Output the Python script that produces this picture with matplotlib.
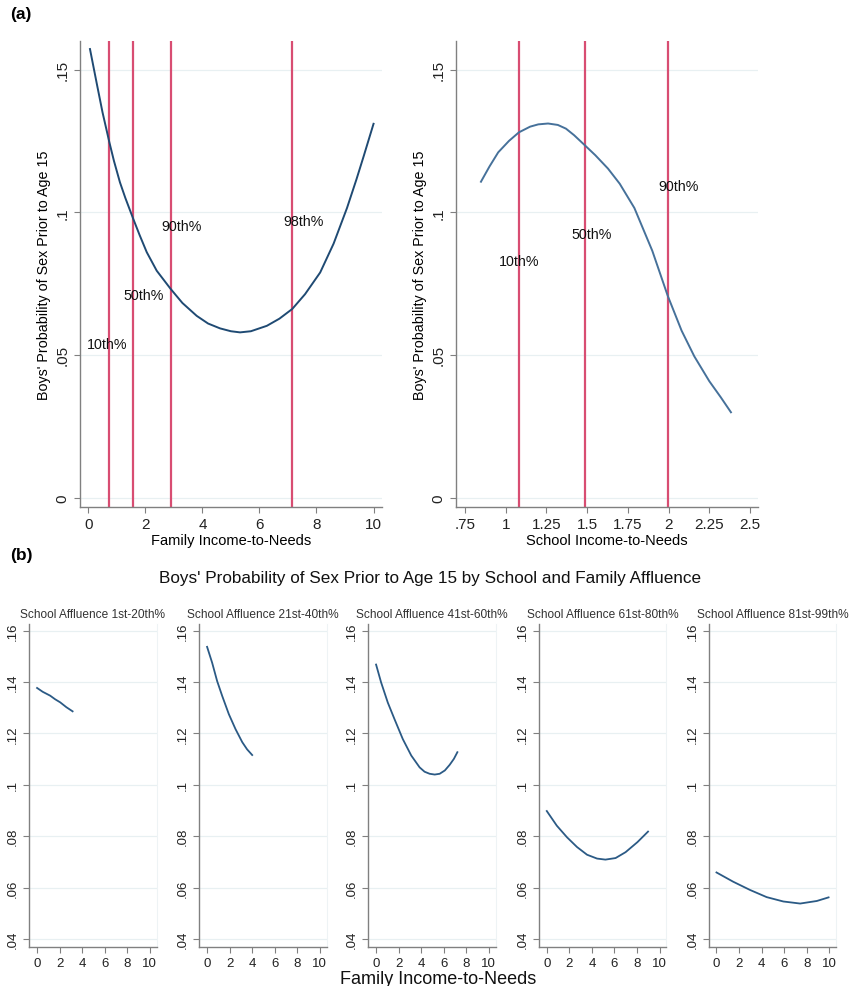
import numpy as np
import matplotlib
matplotlib.use("Agg")
import matplotlib.pyplot as plt

plt.rcParams["font.family"] = ["Liberation Sans", "DejaVu Sans"]

NAVY = "#1f4a73"
RED = "#d84d72"
GRID = "#e8f0f2"
SPINE = "#808080"

# panel (a), left: family income-to-needs
fam_x = [0.06, 0.3, 0.5, 0.74, 0.9, 1.11, 1.3, 1.58, 1.8, 2.05, 2.4, 2.89, 3.3, 3.8, 4.2,
         4.62, 5.0, 5.32, 5.7, 6.26, 6.7, 7.15, 7.6, 8.13, 8.6, 9.07, 9.4, 9.65, 10.0]
fam_y = [0.1572, 0.1450, 0.1350, 0.1245, 0.1180, 0.1105, 0.1050, 0.0976, 0.0920, 0.0860,
         0.0795, 0.0731, 0.0682, 0.0637, 0.0610, 0.0593, 0.0583, 0.0579, 0.0583, 0.0602,
         0.0627, 0.0661, 0.0713, 0.0789, 0.0890, 0.1015, 0.1115, 0.1195, 0.1310]
fam_pct = [0.74, 1.58, 2.89, 7.15]
fam_lbl = ["10th%", "50th%", "90th%", "98th%"]
fam_lbl_x = [-0.05, 1.23, 2.55, 6.84]
fam_lbl_y = [0.0538, 0.0710, 0.0953, 0.0970]

# panel (a), right: school income-to-needs
sch_x = [0.848, 0.9, 0.954, 1.02, 1.081, 1.15, 1.2, 1.26, 1.32, 1.37, 1.42, 1.489, 1.55,
         1.628, 1.7, 1.79, 1.9, 1.995, 2.08, 2.158, 2.25, 2.32, 2.383]
sch_y = [0.1107, 0.1160, 0.1210, 0.1250, 0.1280, 0.1300, 0.1308, 0.1311, 0.1306, 0.1293,
         0.1270, 0.1233, 0.1200, 0.1153, 0.1100, 0.1015, 0.0865, 0.0707, 0.0585, 0.0495,
         0.0408, 0.0352, 0.0299]
sch_pct = [1.081, 1.489, 1.997]
sch_lbl = ["10th%", "50th%", "90th%"]
sch_lbl_x = [0.96, 1.403, 1.938]
sch_lbl_y = [0.0830, 0.0924, 0.1091]

# panel (b): by school affluence quintile
quint_titles = ["School Affluence 1st-20th%", "School Affluence 21st-40th%",
                "School Affluence 41st-60th%", "School Affluence 61st-80th%",
                "School Affluence 81st-99th%"]
q1_x = [0, 0.5, 1.16, 1.6, 2.05, 2.6, 3.15]
q1_y = [0.1377, 0.1362, 0.1347, 0.1333, 0.1321, 0.1302, 0.1286]
q2_x = [0, 0.45, 0.89, 1.34, 1.93, 2.52, 3.12, 3.55, 4.0]
q2_y = [0.1537, 0.1475, 0.1404, 0.1346, 0.1275, 0.1217, 0.1166, 0.1138, 0.1116]
q3_x = [0, 0.45, 1.04, 1.63, 2.37, 3.12, 3.86, 4.3, 4.75, 5.2, 5.64, 6.1, 6.53, 6.9, 7.21]
q3_y = [0.1468, 0.1398, 0.1320, 0.1256, 0.1178, 0.1114, 0.1068, 0.1051, 0.1043, 0.1040,
        0.1043, 0.1056, 0.1078, 0.1101, 0.1127]
q4_x = [0, 0.89, 1.79, 2.68, 3.57, 4.46, 5.2, 6.1, 6.99, 8.04, 8.98]
q4_y = [0.0898, 0.0841, 0.0796, 0.0758, 0.0728, 0.0713, 0.0709, 0.0715, 0.0738, 0.0777,
        0.0818]
q5_x = [0, 1.48, 2.97, 4.45, 5.93, 7.42, 8.9, 9.94]
q5_y = [0.0659, 0.0623, 0.0591, 0.0563, 0.0546, 0.0538, 0.0548, 0.0562]
quint_x = [q1_x, q2_x, q3_x, q4_x, q5_x]
quint_y = [q1_y, q2_y, q3_y, q4_y, q5_y]


def style_axes(ax, tick_size):
    for s in ["top", "right"]:
        ax.spines[s].set_visible(False)
    for s in ["left", "bottom"]:
        ax.spines[s].set_color(SPINE)
        ax.spines[s].set_linewidth(1.0)
    ax.tick_params(axis="both", colors=SPINE, labelcolor="#222222",
                   labelsize=tick_size, length=4, width=0.8, direction="out")
    ax.tick_params(axis="y", labelrotation=90)
    for lab in ax.get_yticklabels():
        lab.set_va("center")
    ax.grid(axis="y", color=GRID, linewidth=0.9)
    ax.set_axisbelow(True)


fig = plt.figure(figsize=(8.51, 9.87), dpi=100)

# top left
ax1 = fig.add_axes([0.094, 0.4853, 0.355, 0.4721])
ax1.plot(fam_x, fam_y, color=NAVY, lw=1.4, zorder=3)
for v in fam_pct:
    ax1.axvline(v, color=RED, lw=1.6, zorder=2)
for t, x, y in zip(fam_lbl, fam_lbl_x, fam_lbl_y):
    ax1.text(x, y, t, fontsize=10.3, ha="left", va="center", color="#111111", zorder=4)
ax1.set_xlim(-0.29, 10.3)
ax1.set_ylim(-0.0033, 0.160)
ax1.set_xticks([0, 2, 4, 6, 8, 10])
ax1.set_yticks([0, 0.05, 0.1, 0.15])
ax1.set_yticklabels(["0", ".05", ".1", ".15"])
ax1.set_xlabel("Family Income-to-Needs", fontsize=10.5, labelpad=1)
ax1.set_ylabel("Boys' Probability of Sex Prior to Age 15", fontsize=10.3, labelpad=3)
style_axes(ax1, 11)

# top right
ax2 = fig.add_axes([0.5355, 0.4853, 0.3552, 0.4721])
ax2.plot(sch_x, sch_y, color="#46719a", lw=1.4, zorder=3)
for v in sch_pct:
    ax2.axvline(v, color=RED, lw=1.6, zorder=2)
for t, x, y in zip(sch_lbl, sch_lbl_x, sch_lbl_y):
    ax2.text(x, y, t, fontsize=10.3, ha="left", va="center", color="#111111", zorder=4)
ax2.set_xlim(0.693, 2.549)
ax2.set_ylim(-0.0033, 0.160)
ax2.set_xticks([0.75, 1, 1.25, 1.5, 1.75, 2, 2.25, 2.5])
ax2.set_xticklabels([".75", "1", "1.25", "1.5", "1.75", "2", "2.25", "2.5"])
ax2.set_yticks([0, 0.05, 0.1, 0.15])
ax2.set_yticklabels(["0", ".05", ".1", ".15"])
ax2.set_xlabel("School Income-to-Needs", fontsize=10.5, labelpad=1)
ax2.set_ylabel("Boys' Probability of Sex Prior to Age 15", fontsize=10.3, labelpad=3)
style_axes(ax2, 11)

# bottom row
lefts = [29.3, 199.3, 368.3, 539.0, 708.7]
for i in range(5):
    ax = fig.add_axes([lefts[i] / 851, 0.0398, 127.3 / 851, 0.327])
    ax.plot(quint_x[i], quint_y[i], color="#2b5a85", lw=1.3, zorder=3)
    ax.set_xlim(-0.69, 10.6)
    ax.set_ylim(0.037, 0.1626)
    ax.set_xticks([0, 2, 4, 6, 8, 10])
    ax.set_yticks([0.04, 0.06, 0.08, 0.1, 0.12, 0.14, 0.16])
    ax.set_yticklabels([".04", ".06", ".08", ".1", ".12", ".14", ".16"])
    style_axes(ax, 9.5)
    ax.spines["right"].set_visible(True)
    ax.spines["right"].set_color("#eef3f5")
    ax.set_title(quint_titles[i], fontsize=8.6, color="#333333", pad=5)

fig.text(0.012, 0.985, "(a)", fontsize=12.5, fontweight="bold", va="center")
fig.text(0.012, 0.437, "(b)", fontsize=12.5, fontweight="bold", va="center")
fig.text(0.505, 0.414, "Boys' Probability of Sex Prior to Age 15 by School and Family Affluence",
         fontsize=12.3, ha="center", va="center", color="#111111")
fig.text(0.515, 0.008, "Family Income-to-Needs", fontsize=13, ha="center", va="center",
         color="#111111")

fig.savefig("out.png", dpi=100)
